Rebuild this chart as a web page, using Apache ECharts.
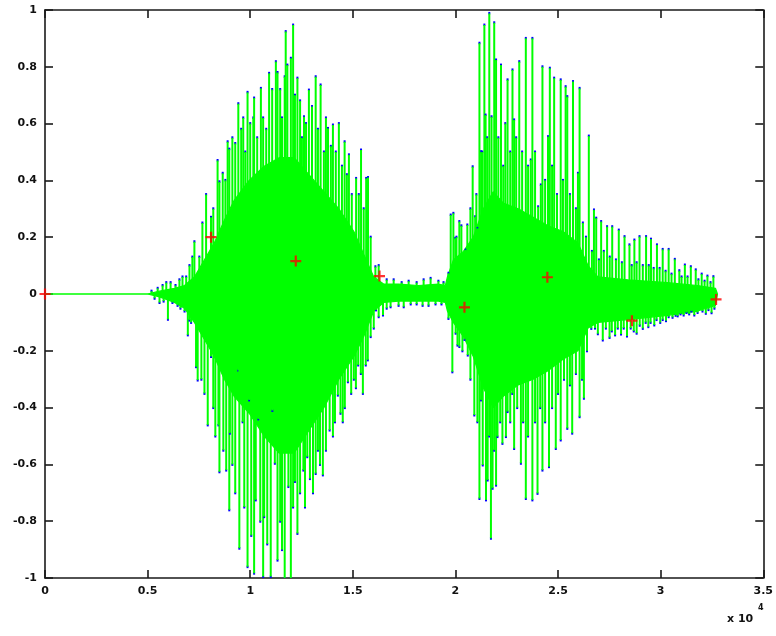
<!DOCTYPE html>
<html>
<head>
<meta charset="utf-8">
<script src="https://cdn.jsdelivr.net/npm/echarts@6/dist/echarts.min.js"></script>
<style>
  html, body { margin: 0; padding: 0; background: #fff; }
  #chart { width: 776px; height: 636px; }
</style>
</head>
<body>
<div id="chart"></div>
<script>
// x in units of 10^4 samples

// dense core of the waveform (upper / lower envelope)
const coreX = [0, 0.5, 0.558, 0.631, 0.68, 0.728, 0.777, 0.825, 0.874, 0.922,
  0.995, 1.068, 1.141, 1.214, 1.286, 1.359, 1.432, 1.505, 1.553, 1.602,
  1.65, 1.723, 1.82, 1.917, 1.951, 1.961, 1.99, 2.039, 2.087, 2.136,
  2.184, 2.233, 2.306, 2.379, 2.451, 2.524, 2.597, 2.646, 2.694, 2.84,
  3.034, 3.18, 3.267, 3.277]
const coreTop = [0, 0, 0.01, 0.02, 0.03, 0.06, 0.12, 0.18, 0.26, 0.33,
  0.4, 0.45, 0.48, 0.48, 0.42, 0.36, 0.3, 0.22, 0.14, 0.06,
  0.035, 0.035, 0.03, 0.035, 0.03, 0.06, 0.12, 0.15, 0.2, 0.3,
  0.36, 0.32, 0.3, 0.27, 0.24, 0.22, 0.18, 0.1, 0.06, 0.05,
  0.04, 0.03, 0.02, 0]
const coreBot = [0, 0, -0.01, -0.03, -0.05, -0.1, -0.16, -0.22, -0.3, -0.36,
  -0.42, -0.5, -0.56, -0.56, -0.48, -0.4, -0.3, -0.22, -0.15, -0.06,
  -0.03, -0.025, -0.025, -0.025, -0.03, -0.06, -0.1, -0.15, -0.22, -0.33,
  -0.4, -0.36, -0.32, -0.3, -0.27, -0.23, -0.2, -0.12, -0.1, -0.09,
  -0.075, -0.06, -0.04, 0]

// positive peaks
const upX = [0.519, 0.549, 0.573, 0.591, 0.612, 0.636, 0.655, 0.670, 0.688, 0.704,
  0.718, 0.728, 0.752, 0.767, 0.785, 0.809, 0.820, 0.841, 0.850, 0.866,
  0.879, 0.890, 0.898, 0.913, 0.927, 0.942, 0.956, 0.966, 0.976, 0.987,
  1.000, 1.015, 1.019, 1.034, 1.052, 1.063, 1.078, 1.092, 1.107, 1.125,
  1.133, 1.146, 1.155, 1.168, 1.173, 1.181, 1.198, 1.209, 1.218, 1.230,
  1.243, 1.252, 1.262, 1.272, 1.286, 1.301, 1.319, 1.330, 1.343, 1.359,
  1.369, 1.379, 1.393, 1.403, 1.417, 1.432, 1.447, 1.460, 1.471, 1.481,
  1.495, 1.516, 1.529, 1.540, 1.553, 1.565, 1.574, 1.587, 1.610, 1.626,
  1.665, 1.699, 1.738, 1.772, 1.811, 1.845, 1.879, 1.917, 1.942,
  1.966, 1.977, 1.990, 1.999, 2.005, 2.019, 2.029, 2.050, 2.058, 2.073,
  2.084, 2.096, 2.102, 2.108, 2.117, 2.125, 2.131, 2.141, 2.147, 2.155,
  2.165, 2.176, 2.189, 2.198, 2.209, 2.222, 2.233, 2.243, 2.254, 2.267,
  2.278, 2.286, 2.296, 2.311, 2.325, 2.343, 2.354, 2.367, 2.375, 2.388,
  2.403, 2.416, 2.424, 2.437, 2.451, 2.460, 2.471, 2.481, 2.495, 2.513,
  2.524, 2.537, 2.545, 2.558, 2.573, 2.587, 2.597, 2.605, 2.621, 2.636,
  2.650, 2.665, 2.675, 2.686, 2.699, 2.710, 2.723, 2.739, 2.752, 2.764,
  2.782, 2.796, 2.811, 2.824, 2.848, 2.859, 2.872, 2.883, 2.897, 2.913,
  2.929, 2.942, 2.953, 2.966, 2.982, 2.995, 3.010, 3.024, 3.039, 3.053,
  3.069, 3.091, 3.102, 3.118, 3.131, 3.147, 3.171, 3.184, 3.200, 3.214,
  3.228, 3.243, 3.257]
const upY = [0.01, 0.02, 0.03, 0.04, 0.04, 0.03, 0.05, 0.06, 0.06, 0.10,
  0.13, 0.184, 0.13, 0.25, 0.35, 0.27, 0.30, 0.47, 0.395, 0.425,
  0.40, 0.536, 0.51, 0.55, 0.53, 0.67, 0.58, 0.62, 0.50, 0.71,
  0.60, 0.62, 0.69, 0.55, 0.724, 0.62, 0.58, 0.777, 0.72, 0.818,
  0.78, 0.72, 0.62, 0.765, 0.924, 0.806, 0.83, 0.947, 0.70, 0.76,
  0.68, 0.55, 0.624, 0.60, 0.718, 0.66, 0.765, 0.58, 0.736, 0.50,
  0.62, 0.583, 0.52, 0.595, 0.50, 0.60, 0.45, 0.536, 0.42, 0.49,
  0.35, 0.407, 0.35, 0.507, 0.30, 0.407, 0.41, 0.20, 0.096, 0.10,
  0.05, 0.05, 0.04, 0.045, 0.04, 0.05, 0.055, 0.045, 0.04,
  0.073, 0.278, 0.284, 0.196, 0.20, 0.255, 0.24, 0.155, 0.243, 0.30,
  0.448, 0.272, 0.35, 0.231, 0.883, 0.501, 0.50, 0.947, 0.63, 0.55,
  0.988, 0.624, 0.955, 0.824, 0.55, 0.806, 0.45, 0.60, 0.754, 0.50,
  0.789, 0.613, 0.55, 0.818, 0.50, 0.90, 0.45, 0.472, 0.90, 0.50,
  0.307, 0.384, 0.80, 0.40, 0.554, 0.795, 0.45, 0.76, 0.35, 0.754,
  0.40, 0.73, 0.695, 0.35, 0.748, 0.30, 0.425, 0.724, 0.25, 0.20,
  0.556, 0.15, 0.296, 0.267, 0.12, 0.255, 0.15, 0.237, 0.13, 0.237,
  0.12, 0.225, 0.11, 0.202, 0.173, 0.10, 0.19, 0.11, 0.202, 0.10,
  0.202, 0.10, 0.193, 0.09, 0.173, 0.09, 0.157, 0.08, 0.157, 0.07,
  0.122, 0.082, 0.06, 0.102, 0.06, 0.096, 0.085, 0.05, 0.070, 0.045,
  0.063, 0.04, 0.061]

// negative peaks
const downX = [0.534, 0.558, 0.578, 0.599, 0.621, 0.646, 0.660, 0.680, 0.696, 0.704,
  0.712, 0.736, 0.744, 0.762, 0.777, 0.793, 0.809, 0.820, 0.830, 0.845,
  0.850, 0.869, 0.883, 0.898, 0.901, 0.913, 0.927, 0.942, 0.947, 0.963,
  0.971, 0.987, 0.995, 1.005, 1.019, 1.027, 1.040, 1.049, 1.063, 1.068,
  1.083, 1.100, 1.108, 1.120, 1.133, 1.146, 1.155, 1.168, 1.186, 1.198,
  1.209, 1.218, 1.230, 1.243, 1.259, 1.267, 1.278, 1.291, 1.306, 1.319,
  1.330, 1.340, 1.354, 1.369, 1.387, 1.403, 1.413, 1.427, 1.440, 1.451,
  1.461, 1.476, 1.492, 1.505, 1.515, 1.526, 1.539, 1.549, 1.563, 1.573,
  1.587, 1.602, 1.613, 1.626, 1.647,
  1.665, 1.684, 1.723, 1.748, 1.782, 1.811, 1.840, 1.869, 1.903, 1.932,
  1.966, 1.985, 2.001, 2.010, 2.019, 2.034, 2.044, 2.060, 2.073, 2.092,
  2.107, 2.117, 2.125, 2.133, 2.149, 2.157, 2.165, 2.173, 2.181, 2.189,
  2.198, 2.205, 2.218, 2.229, 2.246, 2.254, 2.267, 2.277, 2.286, 2.301,
  2.319, 2.330, 2.343, 2.354, 2.375, 2.388, 2.400, 2.413, 2.424, 2.437,
  2.456, 2.471, 2.489, 2.500, 2.513, 2.529, 2.545, 2.558, 2.569, 2.587,
  2.605, 2.617, 2.626, 2.641, 2.662, 2.680, 2.694, 2.718, 2.733, 2.751,
  2.762, 2.778, 2.791, 2.807, 2.820, 2.836, 2.854, 2.869, 2.883, 2.898,
  2.913, 2.927, 2.940, 2.951, 2.969, 2.980, 2.998, 3.010, 3.026, 3.039,
  3.058, 3.073, 3.083, 3.097, 3.112, 3.126, 3.139, 3.150, 3.164, 3.180,
  3.204, 3.220, 3.233, 3.248, 3.262]
const downY = [-0.015, -0.03, -0.025, -0.089, -0.03, -0.04, -0.05, -0.06, -0.144, -0.092,
  -0.10, -0.256, -0.303, -0.30, -0.35, -0.461, -0.22, -0.40, -0.50, -0.461,
  -0.626, -0.55, -0.62, -0.76, -0.49, -0.60, -0.70, -0.268, -0.895, -0.45,
  -0.75, -0.96, -0.373, -0.85, -0.983, -0.725, -0.44, -0.80, -0.995, -0.784,
  -0.88, -0.995, -0.41, -0.596, -0.937, -0.80, -0.90, -1.0, -0.678, -1.0,
  -0.75, -0.66, -0.843, -0.70, -0.62, -0.75, -0.573, -0.65, -0.70, -0.632,
  -0.55, -0.60, -0.637, -0.55, -0.479, -0.50, -0.45, -0.356, -0.42, -0.45,
  -0.40, -0.309, -0.35, -0.30, -0.33, -0.25, -0.28, -0.35, -0.25, -0.232,
  -0.15, -0.12, -0.056, -0.08, -0.074,
  -0.05, -0.045, -0.04, -0.045, -0.035, -0.035, -0.04, -0.04, -0.035, -0.035,
  -0.086, -0.274, -0.138, -0.18, -0.185, -0.20, -0.16, -0.215, -0.30, -0.426,
  -0.45, -0.72, -0.373, -0.602, -0.725, -0.655, -0.50, -0.86, -0.684, -0.55,
  -0.673, -0.502, -0.45, -0.526, -0.502, -0.414, -0.45, -0.35, -0.544, -0.40,
  -0.596, -0.45, -0.72, -0.50, -0.725, -0.45, -0.702, -0.40, -0.62, -0.45,
  -0.608, -0.40, -0.544, -0.35, -0.514, -0.30, -0.473, -0.32, -0.49, -0.28,
  -0.432, -0.30, -0.367, -0.20, -0.121, -0.12, -0.14, -0.162, -0.12, -0.153,
  -0.13, -0.144, -0.12, -0.141, -0.12, -0.148, -0.12, -0.13, -0.138, -0.11,
  -0.121, -0.10, -0.115, -0.10, -0.109, -0.09, -0.10, -0.09, -0.094, -0.08,
  -0.082, -0.075, -0.077, -0.07, -0.074, -0.065, -0.07, -0.06, -0.074, -0.065,
  -0.06, -0.068, -0.055, -0.066, -0.05]

// red "+" markers
const markX = [0, 0.809, 1.222, 1.63, 2.044, 2.448, 2.86, 3.27]
const markY = [0, 0.2, 0.116, 0.063, -0.047, 0.059, -0.094, -0.019]

const zip = (xs, ys) => xs.map((x, i) => [x, ys[i]])
const peaks = zip(upX, upY).concat(zip(downX, downY))

const GREEN = '#00ff00'
const BLUE = '#0000ff'
const AXIS = '#1a1a1a'

// 单个尖峰：从 0 画到峰值，峰尖加一点蓝色
const renderSpike = (params, api) => {
  const x = api.value(0)
  const y = api.value(1)
  const base = api.coord([x, 0])
  const tip = api.coord([x, y])
  const dir = y >= 0 ? -1 : 1
  return {
    type: 'group',
    children: [
      {
        type: 'line',
        shape: { x1: tip[0], y1: tip[1] - dir * 1, x2: tip[0], y2: tip[1] + dir * 1.5 },
        style: { stroke: BLUE, lineWidth: 2 }
      },
      {
        type: 'line',
        shape: { x1: base[0], y1: base[1], x2: tip[0], y2: tip[1] },
        style: { stroke: GREEN, lineWidth: 2 }
      }
    ]
  }
}

const frameAxis = (pos, min, max, interval, showLabel, fmt) => ({
  type: 'value',
  position: pos,
  min,
  max,
  interval,
  axisLine: { show: true, onZero: false, lineStyle: { color: AXIS, width: 1.6 } },
  axisTick: { show: true, inside: true, length: 8, lineStyle: { color: AXIS, width: 1.6 } },
  axisLabel: {
    show: showLabel,
    color: '#111',
    fontFamily: 'DejaVu Sans',
    fontSize: 11,
    fontWeight: 'bold',
    margin: 8,
    formatter: fmt
  },
  splitLine: { show: false }
})

const chart = echarts.init(document.getElementById('chart'))

chart.setOption({
  backgroundColor: '#ffffff',
  animation: false,
  grid: { left: 45, right: 10, top: 10, bottom: 58, containLabel: false },
  xAxis: [
    frameAxis('bottom', 0, 3.5, 0.5, true, (v) => String(+v.toFixed(1))),
    frameAxis('top', 0, 3.5, 0.5, false)
  ],
  yAxis: [
    frameAxis('left', -1, 1, 0.2, true, (v) => String(+v.toFixed(1))),
    frameAxis('right', -1, 1, 0.2, false)
  ],
  graphic: [
    {
      type: 'text',
      left: 727,
      top: 614,
      style: { text: 'x 10', font: 'bold 11px "DejaVu Sans"', fill: '#111' }
    },
    {
      type: 'text',
      left: 758,
      top: 604,
      style: { text: '4', font: 'bold 8px "DejaVu Sans"', fill: '#111' }
    }
  ],
  series: [
    {
      type: 'line',
      data: zip(coreX, coreTop),
      symbol: 'none',
      lineStyle: { color: GREEN, width: 1.2 },
      areaStyle: { color: GREEN, opacity: 1 },
      z: 2
    },
    {
      type: 'line',
      data: zip(coreX, coreBot),
      symbol: 'none',
      lineStyle: { color: GREEN, width: 1.2 },
      areaStyle: { color: GREEN, opacity: 1 },
      z: 2
    },
    {
      type: 'custom',
      data: peaks,
      renderItem: renderSpike,
      encode: { x: 0, y: 1 },
      clip: true,
      z: 3
    },
    {
      type: 'scatter',
      data: zip(markX, markY),
      symbol: 'path://M4,0h2v4h4v2h-4v4h-2v-4h-4v-2h4z',
      symbolSize: 11,
      itemStyle: { color: '#ff0000' },
      clip: false,
      z: 5
    }
  ]
})
</script>
</body>
</html>
